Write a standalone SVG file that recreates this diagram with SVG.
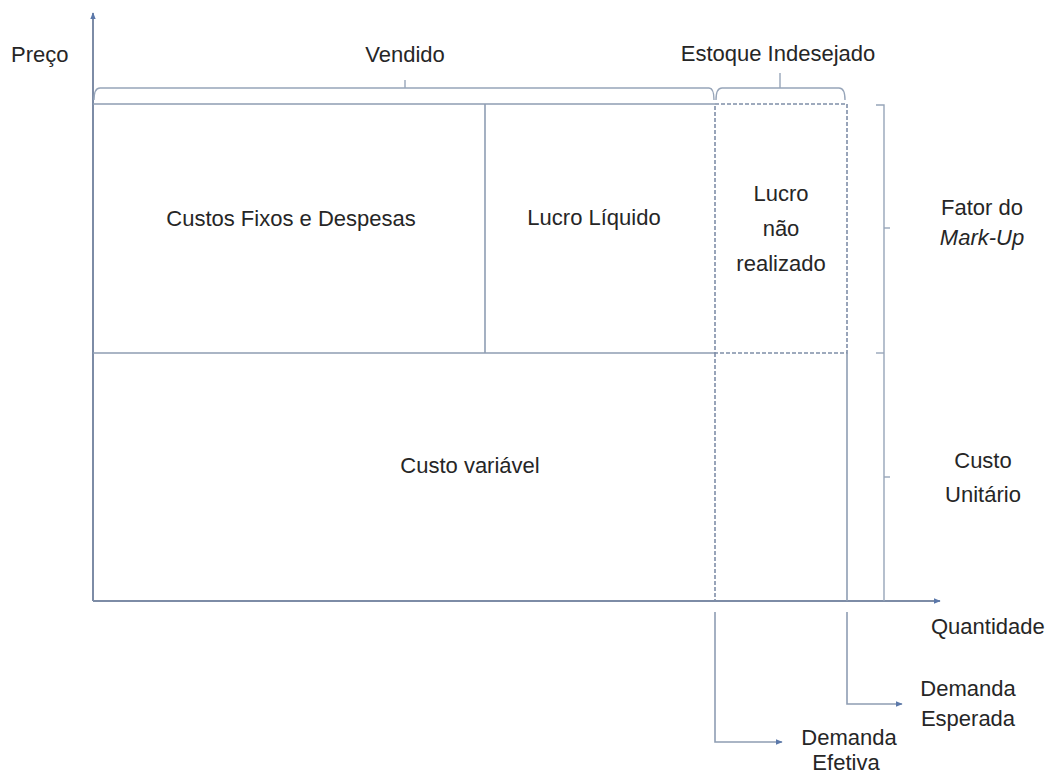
<svg xmlns="http://www.w3.org/2000/svg" width="1058" height="773" viewBox="0 0 1058 773">
<defs>
<style>
text{font-family:"Liberation Sans",Arial,sans-serif;font-size:22px;fill:#262626}
.c{text-anchor:middle}
.ln{fill:none;stroke:#8e9db3;stroke-width:1.6}
.ax{fill:none;stroke:#7d8ca6;stroke-width:2}
.ds{fill:none;stroke:#7f8ea8;stroke-width:1.6;stroke-dasharray:4 2}
.br{fill:none;stroke:#97a5b9;stroke-width:1.4}
</style>
<marker id="ah" viewBox="0 0 10 10" refX="9" refY="5" markerWidth="7" markerHeight="7" markerUnits="userSpaceOnUse" orient="auto">
<path d="M0,1 L10,5 L0,9 z" fill="#5b78aa"/>
</marker>
</defs>
<rect width="1058" height="773" fill="#ffffff"/>

<g id="axes">
<line class="ax" x1="93" y1="601" x2="93" y2="13" marker-end="url(#ah)"/>
<line class="ax" x1="93" y1="601" x2="940" y2="601" marker-end="url(#ah)"/>
<text x="11" y="62">Preço</text>
<text x="931" y="634">Quantidade</text>
</g>

<g id="brackets">
<path class="br" d="M94,100 Q94,88 100,88 L709,88 Q714,88 714,100"/>
<line class="br" x1="405" y1="80" x2="405" y2="88"/>
<path class="br" d="M716,100 Q716,88 722,88 L839,88 Q845,88 845,100"/>
<line class="br" x1="780" y1="73" x2="780" y2="88"/>
<path class="br" d="M876,105 L884,105 L884,601"/>
<line class="br" x1="884" y1="228" x2="890" y2="228"/>
<line class="br" x1="876" y1="353" x2="884" y2="353"/>
<line class="br" x1="884" y1="477" x2="890" y2="477"/>
<text class="c" x="405" y="62">Vendido</text>
<text class="c" x="778" y="61">Estoque Indesejado</text>
</g>

<g id="custos-fixos">
<path class="ln" d="M93,104 L715,104 M93,353 L715,353"/>
<line class="ln" x1="485" y1="104" x2="485" y2="353"/>
<text class="c" x="291" y="226">Custos Fixos e Despesas</text>
</g>

<g id="lucro-liquido">
<text class="c" x="594" y="225">Lucro Líquido</text>
</g>

<g id="lucro-nao-realizado">
<rect class="ds" x="715" y="104" width="132" height="249"/>
<text class="c" x="781" y="201">Lucro</text>
<text class="c" x="781" y="236">não</text>
<text class="c" x="781" y="271">realizado</text>
</g>

<g id="custo-variavel">
<line class="ds" x1="715" y1="353" x2="715" y2="601"/>
<line class="ln" x1="847" y1="353" x2="847" y2="601"/>
<text class="c" x="470" y="473">Custo variável</text>
</g>

<g id="fator-markup">
<text class="c" x="982" y="215">Fator do</text>
<text class="c" x="982" y="245" font-style="italic">Mark-Up</text>
</g>

<g id="custo-unitario">
<text class="c" x="983" y="468">Custo</text>
<text class="c" x="983" y="502">Unitário</text>
</g>

<g id="connectors">
<path class="ln" d="M715,612 L715,742 L782,742" marker-end="url(#ah)"/>
<path class="ln" d="M847,612 L847,704 L902,704" marker-end="url(#ah)"/>
</g>

<g id="demanda-efetiva">
<text class="c" x="849" y="745">Demanda</text>
<text class="c" x="846" y="770">Efetiva</text>
</g>

<g id="demanda-esperada">
<text class="c" x="968" y="696">Demanda</text>
<text class="c" x="968" y="726">Esperada</text>
</g>
</svg>
